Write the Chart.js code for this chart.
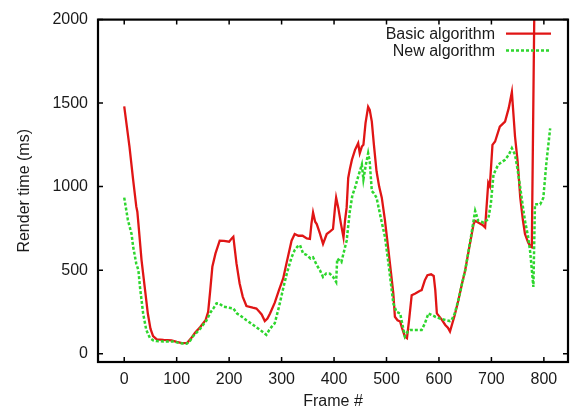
<!DOCTYPE html>
<html>
<head>
<meta charset="utf-8">
<title>Render time per frame</title>
<script src="https://cdn.jsdelivr.net/npm/chart.js@4/dist/chart.umd.min.js"></script>
<style>
  html, body { margin: 0; padding: 0; background: #fff; }
  #wrap { width: 573px; height: 411px; }
</style>
</head>
<body>
<div id="wrap"><canvas id="renderChart" width="573" height="411"></canvas></div>
<script>
// values (frame #, render time in ms)
const basicFrames = [0, 10, 17, 23, 25, 27, 33, 39, 45, 50, 55, 62, 75, 90, 100, 110, 120, 127, 135, 145,
  155, 160, 164, 168, 174, 182, 190, 200, 205, 208, 211, 214, 220, 226, 233, 245, 252, 258, 262, 268,
  273, 278, 287, 295, 303, 310, 319, 325, 332, 340, 348, 354, 357, 360, 364, 367, 373, 379, 386, 392,
  398, 402, 404, 408, 413, 418, 421, 424, 427, 430, 434, 440, 446, 449, 453, 456, 460, 465, 468, 472,
  476, 481, 486, 491, 497, 503, 508, 513, 516, 521, 526, 530, 535, 539, 543, 548, 555, 563, 567, 573,
  578, 585, 590, 593, 596, 605, 612, 617, 621, 630, 637, 644, 650, 658, 666, 669, 678, 683, 688, 694,
  697, 702, 707, 716, 726, 733, 739, 745, 750, 755, 760, 764, 770, 775, 777, 785];
const basicTimes = [1480, 1240, 1040, 880, 850, 780, 560, 400, 240, 150, 105, 85, 82, 80, 70, 63, 65, 90, 125, 160,
  200, 250, 380, 520, 600, 676, 675, 670, 690, 700, 620, 540, 420, 340, 285, 275, 270, 250, 235, 195,
  210, 240, 305, 380, 450, 550, 676, 716, 706, 706, 690, 687, 780, 845, 790, 776, 720, 657, 716, 730,
  746, 880, 934, 874, 780, 696, 800, 874, 1052, 1102, 1160, 1220, 1260, 1200, 1240, 1250, 1380, 1478, 1460, 1389,
  1250, 1092, 1000, 934, 800, 637, 500, 360, 221, 200, 192, 150, 103, 93, 200, 350, 360, 375, 380, 439,
  470, 475, 465, 380, 241, 205, 172, 155, 132, 230, 320, 420, 499, 640, 776, 795, 779, 770, 755, 1023,
  1003, 1250, 1270, 1359, 1389, 1470, 1567, 1300, 1150, 934, 800, 716, 666, 640, 637, 3000];

const newFrames = [0, 7, 14, 17, 23, 27, 30, 36, 42, 49, 55, 61, 75, 93, 106, 119, 125, 131, 145, 157,
  165, 170, 176, 181, 189, 200, 208, 215, 220, 233, 246, 260, 271, 278, 287, 295, 303, 310, 319, 325,
  330, 335, 341, 348, 355, 360, 367, 373, 379, 385, 392, 398, 404, 406, 410, 414, 418, 424, 430, 435,
  440, 446, 453, 456, 460, 465, 468, 472, 476, 481, 490, 497, 503, 508, 513, 519, 526, 530, 535, 540,
  545, 555, 567, 573, 580, 587, 593, 602, 612, 621, 624, 630, 637, 644, 650, 660, 669, 675, 685, 694,
  699, 704, 713, 726, 733, 739, 745, 750, 755, 760, 764, 770, 774, 780, 783, 793, 797, 799, 805, 812];
const newTimes = [934, 800, 716, 640, 538, 500, 400, 241, 142, 93, 80, 75, 73, 73, 63, 60, 75, 103, 150, 200,
  250, 271, 301, 300, 281, 275, 271, 240, 231, 200, 172, 140, 113, 150, 182, 280, 390, 480, 577, 620,
  640, 650, 600, 590, 570, 577, 530, 500, 459, 480, 479, 460, 429, 568, 560, 548, 600, 676, 850, 950,
  993, 1060, 1132, 1043, 1120, 1200, 1150, 973, 960, 934, 800, 700, 558, 430, 301, 250, 241, 180, 103, 130,
  142, 142, 142, 180, 241, 230, 221, 210, 202, 195, 200, 240, 320, 420, 499, 680, 855, 795, 785, 805,
  900, 1072, 1132, 1161, 1190, 1230, 1191, 1100, 993, 880, 795, 700, 607, 399, 894, 894, 920, 934, 1150, 1349];

const xTicks = [0, 100, 200, 300, 400, 500, 600, 700, 800];
const yTicks = [0, 500, 1000, 1500, 2000];

const seriesNames = ['Basic algorithm', 'New algorithm'];

const fontFamily = '"Liberation Sans", Arial, Helvetica, sans-serif';
const inkColor = '#1a1a1a';

const toPoints = (xs, ys) => xs.map((x, i) => ({ x: x, y: ys[i] }));

// gnuplot style frame with inward ticks on all four sides
const frameTicks = {
    id: 'frameTicks',
    afterDatasetsDraw(chart) {
        const { ctx, chartArea: a, scales: { x, y } } = chart;
        const len = 5;
        ctx.save();
        ctx.strokeStyle = '#000';
        ctx.lineWidth = 1.5;
        ctx.beginPath();
        xTicks.forEach(v => {
            const px = x.getPixelForValue(v);
            ctx.moveTo(px, a.bottom); ctx.lineTo(px, a.bottom - len);
            ctx.moveTo(px, a.top); ctx.lineTo(px, a.top + len);
        });
        yTicks.forEach(v => {
            const py = y.getPixelForValue(v);
            ctx.moveTo(a.left, py); ctx.lineTo(a.left + len, py);
            ctx.moveTo(a.right, py); ctx.lineTo(a.right - len, py);
        });
        ctx.stroke();
        ctx.lineWidth = 2.2;
        ctx.strokeRect(a.left, a.top, a.right - a.left, a.bottom - a.top);
        ctx.restore();
    }
};

// key in the top right corner: text right aligned, line sample after it
const cornerKey = {
    id: 'cornerKey',
    afterDatasetsDraw(chart) {
        const { ctx, chartArea: a } = chart;
        ctx.save();
        ctx.font = '16px ' + fontFamily;
        ctx.textAlign = 'right';
        ctx.textBaseline = 'middle';
        chart.data.datasets.forEach((ds, i) => {
            const yy = a.top + 14 + i * 17;
            ctx.fillStyle = inkColor;
            ctx.fillText(ds.label, a.right - 73, yy + 1);
            ctx.strokeStyle = ds.borderColor;
            ctx.lineWidth = ds.borderWidth;
            ctx.setLineDash(ds.borderDash || []);
            ctx.beginPath();
            ctx.moveTo(a.right - 62, yy);
            ctx.lineTo(a.right - 17, yy);
            ctx.stroke();
        });
        ctx.restore();
    }
};

new Chart(document.getElementById('renderChart'), {
    type: 'line',
    data: {
        datasets: [{
            label: seriesNames[0],
            data: toPoints(basicFrames, basicTimes),
            borderColor: '#e01515',
            borderWidth: 2.3,
            pointRadius: 0,
            tension: 0,
            order: 1
        }, {
            label: seriesNames[1],
            data: toPoints(newFrames, newTimes),
            borderColor: '#2ed62e',
            borderWidth: 2.5,
            borderDash: [3, 2],
            pointRadius: 0,
            tension: 0,
            order: 0
        }]
    },
    options: {
        responsive: false,
        animation: false,
        layout: { padding: { top: 16, right: 5, left: 0, bottom: 0 } },
        plugins: {
            legend: { display: false },
            tooltip: { enabled: false }
        },
        scales: {
            x: {
                type: 'linear',
                min: -50,
                max: 846,
                afterBuildTicks: s => { s.ticks = xTicks.map(v => ({ value: v })); },
                afterFit: s => { s.height = 49; },
                grid: { display: false, drawTicks: false },
                border: { display: false },
                ticks: {
                    color: inkColor,
                    padding: 8,
                    maxRotation: 0,
                    callback: v => String(v),
                    font: { size: 16, family: fontFamily }
                },
                title: {
                    display: true,
                    text: 'Frame #',
                    color: inkColor,
                    padding: { top: 0, bottom: 0 },
                    font: { size: 16, family: fontFamily }
                }
            },
            y: {
                min: -50,
                max: 2000,
                afterBuildTicks: s => { s.ticks = yTicks.map(v => ({ value: v })); },
                afterFit: s => { s.width = 98; },
                grid: { display: false, drawTicks: false },
                border: { display: false },
                ticks: {
                    color: inkColor,
                    padding: 10,
                    callback: v => String(v),
                    font: { size: 16, family: fontFamily }
                },
                title: {
                    display: true,
                    text: 'Render time (ms)',
                    color: inkColor,
                    padding: { top: 15, bottom: 0 },
                    font: { size: 16, family: fontFamily }
                }
            }
        }
    },
    plugins: [frameTicks, cornerKey]
});
</script>
</body>
</html>
